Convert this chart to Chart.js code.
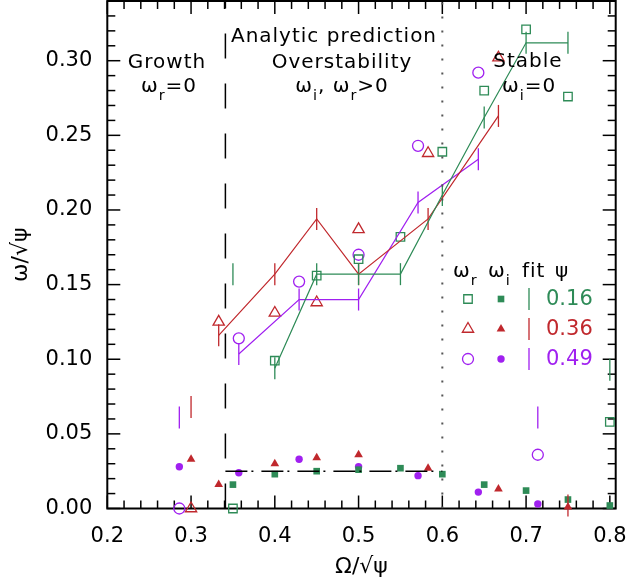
<!DOCTYPE html>
<html>
<head>
<meta charset="utf-8">
<script src="https://cdn.jsdelivr.net/npm/chart.js@4.4.1/dist/chart.umd.min.js"></script>
<style>
  html, body { margin: 0; padding: 0; background: #fff; }
  #wrap { width: 629px; height: 581px; }
</style>
</head>
<body>
<div id="wrap"><canvas id="graficoOmega"></canvas></div>
<script>
const GREEN = '#2E8B57';
const RED = '#C0282D';
const PURPLE = '#A020F0';
const FONT = "'DejaVu Sans', sans-serif";

// psi = 0.16
const xG   = [0.35, 0.40, 0.45, 0.50, 0.55, 0.60, 0.65, 0.70, 0.75, 0.80];
const wrG  = [0.000, 0.099, 0.156, 0.167, 0.182, 0.239, 0.280, 0.321, 0.276, 0.058];
const wiG  = [0.016, 0.023, 0.025, 0.026, 0.027, 0.023, 0.016, 0.012, 0.006, 0.002];
const fitG = [0.157, 0.094, 0.157, 0.157, 0.157, 0.210, 0.262, 0.312, 0.312, 0.093];

// psi = 0.36
const xR   = [0.300, 0.333, 0.400, 0.450, 0.500, 0.583, 0.667, 0.750];
const wrR  = [0.000, 0.125, 0.131, 0.138, 0.187, 0.238, 0.302, null];
const wiR  = [0.033, 0.016, 0.030, 0.034, 0.036, 0.027, 0.013, 0.001];
const fitR = [0.068, 0.116, 0.157, 0.194, 0.157, 0.194, 0.263, 0.002];

// psi = 0.49
const xP   = [0.286, 0.357, 0.429, 0.500, 0.571, 0.643, 0.714];
const wrP  = [0.000, 0.114, 0.152, 0.170, 0.243, 0.292, 0.036];
const wiP  = [0.028, 0.024, 0.033, 0.028, 0.022, 0.011, 0.003];
const fitP = [0.061, 0.1035, 0.140, 0.140, 0.205, 0.234, 0.061];

// regiones
const growthEdge = 0.341;
const stableEdge = 0.6;
const analyticWi = 0.025;

const xTicks = [0.2, 0.3, 0.4, 0.5, 0.6, 0.7, 0.8];
const yTicks = [0.00, 0.05, 0.10, 0.15, 0.20, 0.25, 0.30];
const xMinor = 0.02, yMinor = 0.01;
const xRange = [0.2, 0.807], yRange = [0, 0.34];

const pts = (xs, ys) => xs.map((x, i) => ({ x: x, y: ys[i] })).filter(p => p.y !== null);

function marks(label, xs, ys, color, style, radius, filled) {
    return {
        label: label, data: pts(xs, ys), showLine: false, clip: false,
        pointStyle: style, pointRadius: radius, borderWidth: filled ? 0 : 1.3,
        borderColor: color, backgroundColor: filled ? color : 'rgba(0,0,0,0)'
    };
}
function fitMarks(xs, ys, color) {
    return {
        data: pts(xs, ys), showLine: false, clip: false,
        pointStyle: 'line', pointRotation: 90, pointRadius: 11,
        borderWidth: 1.3, borderColor: color
    };
}
// la curva del ajuste sólo une los puntos interiores
function fitLine(xs, ys, color) {
    return {
        data: pts(xs.slice(1, -1), ys.slice(1, -1)), showLine: true,
        pointRadius: 0, borderWidth: 1.2, borderColor: color, tension: 0
    };
}
function refLine(data, dash, color, width) {
    return { data: data, showLine: true, pointRadius: 0, borderDash: dash,
             borderColor: color, borderWidth: width, tension: 0 };
}

// marco con marcas hacia adentro en los cuatro lados
const framePlugin = {
    id: 'frame',
    beforeDatasetsDraw(chart) {
        const { ctx, chartArea: a, scales: { x, y } } = chart;
        ctx.save();
        ctx.strokeStyle = '#000';
        ctx.lineWidth = 1.5;
        const tick = (px, py, dx, dy) => { ctx.beginPath(); ctx.moveTo(px, py); ctx.lineTo(px + dx, py + dy); ctx.stroke(); };
        for (let v = xRange[0]; v <= 0.8001; v += xMinor) {
            const major = xTicks.some(t => Math.abs(t - v) < 1e-6);
            const len = major ? 13 : 8, px = x.getPixelForValue(v);
            tick(px, a.bottom, 0, -len);
            tick(px, a.top, 0, len);
        }
        for (let v = 0; v <= 0.3301; v += yMinor) {
            const major = yTicks.some(t => Math.abs(t - v) < 1e-6);
            const len = major ? 13 : 8, py = y.getPixelForValue(v);
            tick(a.left, py, len, 0);
            tick(a.right, py, -len, 0);
        }
        ctx.lineWidth = 2;
        ctx.strokeRect(a.left, a.top, a.right - a.left, a.bottom - a.top);
        ctx.restore();
    }
};

function rich(ctx, parts, x, y, size, align) {
    const sub = size * 0.72;
    let w = 0;
    parts.forEach(p => { ctx.font = (p[1] ? sub : size) + 'px ' + FONT; w += ctx.measureText(p[0]).width; });
    let cx = align === 'center' ? x - w / 2 : x;
    parts.forEach(p => {
        ctx.font = (p[1] ? sub : size) + 'px ' + FONT;
        ctx.fillText(p[0], cx, p[1] ? y + size * 0.38 : y);
        cx += ctx.measureText(p[0]).width;
    });
}

const textPlugin = {
    id: 'labels',
    afterDraw(chart) {
        const ctx = chart.ctx;
        ctx.save();
        ctx.fillStyle = '#000';
        ctx.textBaseline = 'alphabetic';
        ctx.letterSpacing = '1px';
        rich(ctx, [['Growth']], 167, 68, 20, 'center');
        rich(ctx, [['ω'], ['r', 1], ['=0']], 169, 92, 20, 'center');
        rich(ctx, [['Analytic prediction']], 334, 42, 20, 'center');
        rich(ctx, [['Overstability']], 342, 68, 20, 'center');
        rich(ctx, [['ω'], ['i', 1], [', ω'], ['r', 1], ['>0']], 342, 92, 20, 'center');
        rich(ctx, [['Stable']], 528, 67, 20, 'center');
        rich(ctx, [['ω'], ['i', 1], ['=0']], 529, 92, 20, 'center');

        // leyenda
        rich(ctx, [['ω'], ['r', 1]], 453, 277, 20, 'left');
        rich(ctx, [['ω'], ['i', 1]], 488, 277, 20, 'left');
        rich(ctx, [['fit']], 522, 277, 20, 'left');
        rich(ctx, [['ψ']], 555, 277, 20, 'left');
        ctx.letterSpacing = '0px';
        const rows = [
            { c: GREEN, open: 'rect', ro: 6, rf: 4.7, t: '0.16', y: 299 },
            { c: RED, open: 'triangle', ro: 6.5, rf: 5, t: '0.36', y: 329 },
            { c: PURPLE, open: 'circle', ro: 5.5, rf: 3.7, t: '0.49', y: 359 }
        ];
        const dp = Chart.helpers.drawPoint;
        rows.forEach(r => {
            ctx.strokeStyle = r.c;
            ctx.fillStyle = 'rgba(0,0,0,0)';
            ctx.lineWidth = 1.3;
            dp(ctx, { pointStyle: r.open, radius: r.ro, rotation: 0, borderWidth: 1.3 }, 468, r.y);
            ctx.fillStyle = r.c;
            dp(ctx, { pointStyle: r.open, radius: r.rf, rotation: 0, borderWidth: 0 }, 501, r.y);
            dp(ctx, { pointStyle: 'line', radius: 11, rotation: 90, borderWidth: 1.3 }, 529, r.y);
            ctx.font = '21px ' + FONT;
            ctx.textBaseline = 'middle';
            ctx.fillText(r.t, 546, r.y + 1);
            ctx.textBaseline = 'alphabetic';
        });
        ctx.restore();
    }
};

new Chart(document.getElementById('graficoOmega'), {
    type: 'scatter',
    data: {
        datasets: [
            refLine([{ x: growthEdge, y: 0 }, { x: growthEdge, y: yRange[1] }], [25, 25], '#000', 1.5),
            refLine([{ x: stableEdge, y: 0 }, { x: stableEdge, y: yRange[1] }], [2, 12], '#555', 2),
            refLine([{ x: growthEdge, y: analyticWi }, { x: stableEdge, y: analyticWi }], [22, 4, 2, 8], '#000', 1.5),
            fitLine(xG, fitG, GREEN),
            fitLine(xR, fitR, RED),
            fitLine(xP, fitP, PURPLE),
            fitMarks(xG, fitG, GREEN),
            fitMarks(xR, fitR, RED),
            fitMarks(xP, fitP, PURPLE),
            marks('wi 0.16', xG, wiG, GREEN, 'rect', 4.7, true),
            marks('wi 0.36', xR, wiR, RED, 'triangle', 5, true),
            marks('wi 0.49', xP, wiP, PURPLE, 'circle', 3.7, true),
            marks('wr 0.16', xG, wrG, GREEN, 'rect', 6, false),
            marks('wr 0.36', xR, wrR, RED, 'triangle', 6.5, false),
            marks('wr 0.49', xP, wrP, PURPLE, 'circle', 5.5, false)
        ]
    },
    options: {
        responsive: true,
        maintainAspectRatio: false,
        animation: false,
        events: [],
        layout: { autoPadding: false, padding: { top: 1, right: 13.3, left: 0, bottom: 0 } },
        plugins: { legend: { display: false }, tooltip: { enabled: false } },
        scales: {
            x: {
                type: 'linear', min: xRange[0], max: xRange[1],
                grid: { display: false, drawTicks: false }, border: { display: false },
                afterBuildTicks: s => { s.ticks = xTicks.map(v => ({ value: v })); },
                afterFit: s => { s.height = 72.5; s.paddingLeft = 0; s.paddingRight = 0; },
                ticks: { color: '#000', padding: 15, font: { family: FONT, size: 21 }, callback: v => v.toFixed(1) },
                title: { display: true, text: 'Ω/√ψ', color: '#000', font: { family: FONT, size: 22 }, padding: { bottom: 1 } }
            },
            y: {
                type: 'linear', min: yRange[0], max: yRange[1],
                grid: { display: false, drawTicks: false }, border: { display: false },
                afterBuildTicks: s => { s.ticks = yTicks.map(v => ({ value: v })); },
                afterFit: s => { s.width = 107.3; s.paddingTop = 0; s.paddingBottom = 0; },
                ticks: { color: '#000', padding: 15, font: { family: FONT, size: 21 }, callback: v => v.toFixed(2) },
                title: { display: true, text: 'ω/√ψ', color: '#000', font: { family: FONT, size: 22 }, padding: { top: 8 } }
            }
        }
    },
    plugins: [framePlugin, textPlugin]
});
</script>
</body>
</html>
